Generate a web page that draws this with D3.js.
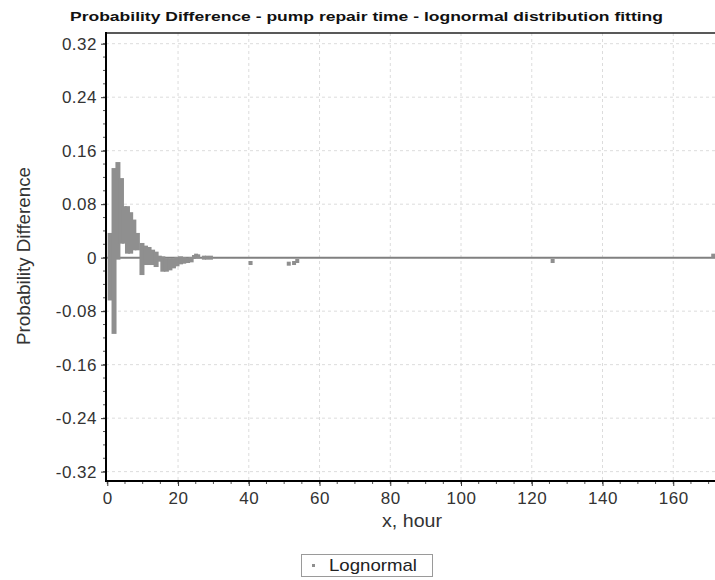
<!DOCTYPE html>
<html>
<head>
<meta charset="utf-8">
<script src="https://cdn.jsdelivr.net/npm/d3@7"></script>
<style>
body { margin: 0; background: #fff; }
text { font-family: "Liberation Sans", Arial, sans-serif; }
</style>
</head>
<body>
<div id="chart"></div>
<script>
// stacks of tied observations: x position, top and bottom difference
var stackX    = [0.8, 1.9, 3.0, 4.0, 4.8, 5.7, 6.6, 7.5, 8.5, 9.8, 10.8, 11.8, 12.8, 13.8, 14.7, 15.7, 16.7, 17.7, 18.7, 19.7, 20.7, 21.6, 22.7, 23.7];
var stackHigh = [0.034, 0.131, 0.140, 0.116, 0.074, 0.074, 0.065, 0.054, 0.034, 0.019, 0.015, 0.013, 0.009, 0.006, 0.000, -0.001, -0.004, -0.004, -0.004, -0.002, -0.001, -0.002, -0.003, -0.002];
var stackLow  = [-0.061, -0.111, 0.000, 0.024, 0.024, 0.009, 0.009, 0.014, 0.014, -0.023, -0.008, -0.008, -0.008, -0.011, -0.003, -0.018, -0.018, -0.016, -0.013, -0.010, -0.007, -0.006, -0.005, -0.004];

// single points further out
var pointX = [24.5, 25.1, 25.7, 27.3, 28.2, 29.3, 40.5, 51.3, 52.8, 53.7, 125.9, 171.3];
var pointY = [0.001, 0.003, 0.002, 0.000, 0.000, 0.000, -0.008, -0.009, -0.008, -0.005, -0.005, 0.003];

var xTicks = [0, 20, 40, 60, 80, 100, 120, 140, 160];
var yTicks = [-0.32, -0.24, -0.16, -0.08, 0, 0.08, 0.16, 0.24, 0.32];

var width = 715, height = 580;
var plotLeft = 106, plotRight = 715, plotTop = 33, plotBottom = 481;
var markColor = "#8f8f8f";

var svg = d3.select("#chart")
    .append("svg")
    .attr("width", width)
    .attr("height", height);

svg.append("rect").attr("width", width).attr("height", height).attr("fill", "#fff");

var x = d3.scaleLinear().domain([-0.37, 171.8]).range([plotLeft, plotRight]);
var y = d3.scaleLinear().domain([-0.334, 0.336]).range([plotBottom, plotTop]);

// grid lines
svg.append("g")
    .selectAll("line")
    .data(xTicks.slice(1))
    .join("line")
    .attr("x1", function(d) { return x(d); })
    .attr("x2", function(d) { return x(d); })
    .attr("y1", plotTop)
    .attr("y2", plotBottom)
    .attr("stroke", "#dcdcdc")
    .attr("stroke-dasharray", "3,3");

svg.append("g")
    .selectAll("line")
    .data(yTicks)
    .join("line")
    .attr("x1", plotLeft)
    .attr("x2", plotRight)
    .attr("y1", function(d) { return y(d); })
    .attr("y2", function(d) { return y(d); })
    .attr("stroke", "#dcdcdc")
    .attr("stroke-dasharray", "3,3");

// zero line
svg.append("line")
    .attr("x1", plotLeft).attr("x2", plotRight)
    .attr("y1", y(0)).attr("y2", y(0))
    .attr("stroke", "#808080")
    .attr("stroke-width", 2);

// tied stacks
svg.append("g")
    .selectAll("rect")
    .data(stackX)
    .join("rect")
    .attr("x", function(d) { return x(d) - 2.5; })
    .attr("width", 5)
    .attr("y", function(d, i) { return y(stackHigh[i]) - 2; })
    .attr("height", function(d, i) { return y(stackLow[i]) - y(stackHigh[i]) + 4; })
    .attr("fill", markColor);

// single points
svg.append("g")
    .selectAll("rect")
    .data(pointX)
    .join("rect")
    .attr("x", function(d) { return x(d) - 2; })
    .attr("y", function(d, i) { return y(pointY[i]) - 2; })
    .attr("width", 4)
    .attr("height", 4)
    .attr("fill", markColor);

// minor ticks
svg.append("g")
    .selectAll("line")
    .data(d3.range(0, 172, 5))
    .join("line")
    .attr("x1", function(d) { return x(d); })
    .attr("x2", function(d) { return x(d); })
    .attr("y1", plotBottom)
    .attr("y2", plotBottom + 3)
    .attr("stroke", "#555");

svg.append("g")
    .selectAll("line")
    .data(d3.range(-16, 17))
    .join("line")
    .attr("x1", plotLeft - 3)
    .attr("x2", plotLeft)
    .attr("y1", function(d) { return y(d * 0.02); })
    .attr("y2", function(d) { return y(d * 0.02); })
    .attr("stroke", "#555");

// axes
var xAxis = svg.append("g")
    .attr("transform", "translate(0," + plotBottom + ")")
    .call(d3.axisBottom(x).tickValues(xTicks).tickSize(5).tickPadding(6));

var yAxis = svg.append("g")
    .attr("transform", "translate(" + plotLeft + ",0)")
    .call(d3.axisLeft(y).tickValues(yTicks).tickSize(5).tickPadding(4)
        .tickFormat(function(d) { return Math.abs(d) < 1e-9 ? "0" : d.toFixed(2); }));

[xAxis, yAxis].forEach(function(g) {
    g.select(".domain").remove();
    g.selectAll("line").attr("stroke", "#333");
    g.selectAll("text")
        .attr("font-size", "17px")
        .attr("letter-spacing", "0.5px")
        .attr("fill", "#333");
});

// plot frame
svg.append("line").attr("x1", plotLeft).attr("x2", plotRight).attr("y1", plotTop).attr("y2", plotTop)
    .attr("stroke", "#222").attr("stroke-width", 1.5);
svg.append("line").attr("x1", plotLeft).attr("x2", plotLeft).attr("y1", plotTop - 1).attr("y2", plotBottom + 1)
    .attr("stroke", "#000").attr("stroke-width", 2);
svg.append("line").attr("x1", plotLeft - 1).attr("x2", plotRight).attr("y1", plotBottom).attr("y2", plotBottom)
    .attr("stroke", "#000").attr("stroke-width", 2);

// title
svg.append("text")
    .attr("x", 70)
    .attr("y", 21)
    .attr("font-size", "13px")
    .attr("font-weight", "bold")
    .attr("textLength", 593)
    .attr("lengthAdjust", "spacingAndGlyphs")
    .attr("fill", "#111")
    .text("Probability Difference - pump repair time - lognormal distribution fitting");

// axis labels
svg.append("text")
    .attr("x", 382)
    .attr("y", 527)
    .attr("font-size", "18px")
    .attr("textLength", 60)
    .attr("lengthAdjust", "spacingAndGlyphs")
    .attr("fill", "#333")
    .text("x, hour");

svg.append("text")
    .attr("transform", "translate(30,345) rotate(-90)")
    .attr("font-size", "18px")
    .attr("textLength", 178)
    .attr("lengthAdjust", "spacingAndGlyphs")
    .attr("fill", "#333")
    .text("Probability Difference");

// legend
var legend = svg.append("g");
legend.append("rect")
    .attr("x", 301.5).attr("y", 554.5)
    .attr("width", 131).attr("height", 22)
    .attr("fill", "#fff")
    .attr("stroke", "#9a9a9a");
legend.append("rect")
    .attr("x", 312).attr("y", 564)
    .attr("width", 3).attr("height", 3)
    .attr("fill", markColor);
legend.append("text")
    .attr("x", 329)
    .attr("y", 571)
    .attr("font-size", "17px")
    .attr("textLength", 88)
    .attr("lengthAdjust", "spacingAndGlyphs")
    .attr("fill", "#222")
    .text("Lognormal");
</script>
</body>
</html>
